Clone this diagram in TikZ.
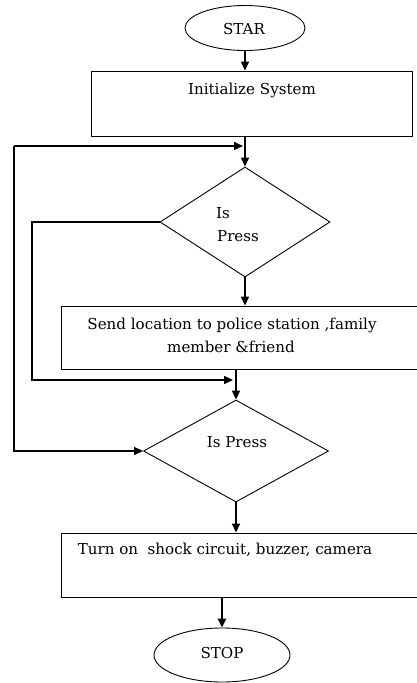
\documentclass[tikz,border=0pt]{standalone}
\usepackage{fontspec}
\setmainfont{DejaVu Serif}
\usetikzlibrary{shapes.geometric,arrows.meta}
\begin{document}
\begin{tikzpicture}[x=1pt,y=-1pt,
  shapeline/.style={draw,line width=0.9pt,inner sep=0pt},
  box/.style={shapeline,rectangle},
  term/.style={shapeline,ellipse},
  dec/.style={shapeline,diamond},
  conn/.style={line width=1.4pt,-{Triangle[length=9pt,width=8pt]}},
  lbl/.style={inner sep=0pt,font=\fontsize{15.1}{18}\selectfont}
]
\useasboundingbox (0,0) rectangle (417,683);
% shapes
\node[term,minimum width=120pt,minimum height=45pt] (star) at (245,28) {};
\node[lbl] (tstar) at (244,29) {STAR};
\node[box,minimum width=321pt,minimum height=65pt] (init) at (251.5,103.5) {};
\node[lbl] (tinit) at (252,90) {Initialize System};
\node[dec,minimum width=170pt,minimum height=110pt] (d1) at (245,222) {};
\node[lbl] (tis) at (223,213) {Is};
\node[lbl] (tpress) at (238,236) {Press};
\node[box,minimum width=360pt,minimum height=63pt] (send) at (241,337.5) {};
\node[lbl] (tsend1) at (232,325) {Send location to police station ,family};
\node[lbl] (tsend2) at (231,347) {member \&friend};
\node[dec,minimum width=185pt,minimum height=102pt] (d2) at (236,451) {};
\node[lbl] (tis2) at (237,442) {Is Press};
\node[box,minimum width=360pt,minimum height=64pt] (turn) at (241,565) {};
\node[lbl] (tturn) at (225,550) {Turn on\ \ shock circuit, buzzer, camera};
\node[term,minimum width=136pt,minimum height=54pt] (stop) at (222,655) {};
\node[lbl] (tstop) at (222,653) {STOP};
% junctions
\coordinate (j1) at (243,146);
\coordinate (o1) at (14,146);
\coordinate (o2) at (14,451);
\coordinate (i1) at (32,222);
\coordinate (i2) at (32,380);
\coordinate (j2) at (233,380);
% connectors
\draw[conn] (star.south) -- (star.south |- init.north);
\draw[conn] (init.south -| d1.north) -- (d1.north);
\draw[conn] (d1.south) -- (d1.south |- send.north);
\draw[conn] (d2.north |- send.south) -- (d2.north);
\draw[conn] (d2.south) -- (d2.south |- turn.north);
\draw[conn,line width=2.2pt] (stop.north |- turn.south) -- (stop.north);
\draw[conn] (o1) -- (j1);
\draw[conn] (o1) -- (o2) -- (d2.west);
\draw[conn] (d1.west) -- (i1) -- (i2) -- (j2);
\end{tikzpicture}
\end{document}
